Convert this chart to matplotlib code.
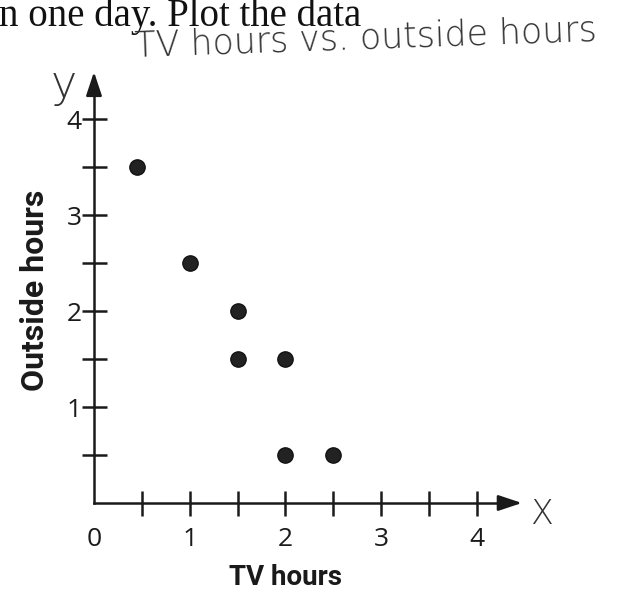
import matplotlib.pyplot as plt

tv_hours = [0.45, 1, 1.5, 1.5, 2, 2, 2.5]
outside_hours = [3.5, 2.5, 2, 1.5, 1.5, 0.5, 0.5]

x_ticks = [0, 0.5, 1, 1.5, 2, 2.5, 3, 3.5, 4]
x_labels = ['0', '', '1', '', '2', '', '3', '', '4']
y_ticks = [0.5, 1, 1.5, 2, 2.5, 3, 3.5, 4]
y_labels = ['', '1', '', '2', '', '3', '', '4']

fig = plt.figure(figsize=(6.36, 5.94), dpi=100)
ax = fig.add_axes([0, 0, 1, 1])

# limits chosen so the origin sits where it does on the scanned page
ax.set_xlim(-0.982, 5.663)
ax.set_ylim(-0.948, 5.24)

ink = '#1a1a1a'
for s in ['top', 'right']:
    ax.spines[s].set_visible(False)
ax.spines['left'].set_position(('data', 0))
ax.spines['bottom'].set_position(('data', 0))
ax.spines['left'].set_bounds(0, 4.4)
ax.spines['bottom'].set_bounds(0, 4.38)
for s in ['left', 'bottom']:
    ax.spines[s].set_linewidth(1.8)
    ax.spines[s].set_color(ink)

# arrow heads
ax.annotate('', xy=(0, 4.52), xytext=(0, 4.3),
            arrowprops=dict(arrowstyle='-|>,head_length=0.9,head_width=0.3',
                            color=ink, lw=1.8, mutation_scale=16))
ax.annotate('', xy=(4.5, 0), xytext=(4.3, 0),
            arrowprops=dict(arrowstyle='-|>,head_length=0.9,head_width=0.3',
                            color=ink, lw=1.8, mutation_scale=16))

ax.set_xticks(x_ticks)
ax.set_xticklabels(x_labels)
ax.set_yticks(y_ticks)
ax.set_yticklabels(y_labels)
ax.tick_params(axis='both', direction='inout', length=18, width=1.8,
               color=ink, labelsize=19, labelcolor=ink)
ax.tick_params(axis='x', pad=8)
ax.tick_params(axis='y', pad=0)
ax.xaxis.get_major_ticks()[0].tick1line.set_visible(False)
for lab in ax.get_xticklabels() + ax.get_yticklabels():
    lab.set_family('Open Sans')

# points
ax.plot(tv_hours, outside_hours, 'o', color='#222222', markersize=11,
        markeredgecolor='#111111', clip_on=False)

# axis titles
ax.text(2.0, -0.78, 'TV hours', ha='center', va='center', fontsize=20,
        fontweight='bold', family='Roboto', color=ink)
ax.text(-0.62, 2.22, 'Outside hours', ha='center', va='center', fontsize=23,
        fontweight='bold', family='Roboto', rotation=90, color=ink)

# printed question text at the top, cut off on the left
ax.text(-0.99, 4.965, 'n one day. Plot the data', ha='left', va='baseline',
        fontsize=28, family='Liberation Serif', color='#111111')

# handwritten parts
ax.text(2.84, 4.84, 'TV hours vs. outside hours', ha='center', va='center',
        fontsize=25, family='DejaVu Sans', fontweight='light',
        color='#333333', rotation=2)
ax.text(-0.32, 4.36, 'y', ha='center', va='center', fontsize=32,
        family='DejaVu Sans', fontweight='light', color='#333333')
ax.text(4.68, -0.12, 'X', ha='center', va='center', fontsize=24,
        family='DejaVu Sans', fontweight='light', color='#333333')

plt.savefig('out.png', dpi=100)
